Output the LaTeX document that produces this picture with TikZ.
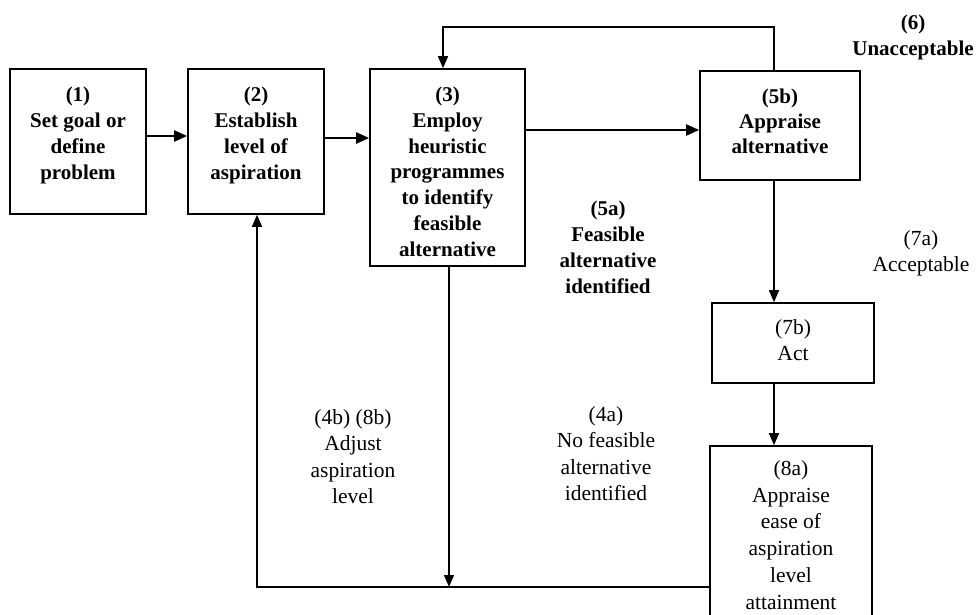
\documentclass[tikz,border=0pt]{standalone}
\usepackage{fontspec}
\setmainfont{Liberation Serif}
\usetikzlibrary{arrows.meta,calc}
\begin{document}
\begin{tikzpicture}[x=1pt,y=-1pt,
  box/.style={draw,line width=1.6pt,rectangle,inner sep=0pt},
  boxtxt/.style={anchor=north,align=center,inner sep=0pt,font=\fontsize{21}{26}\selectfont\bfseries},
  boxtxtr/.style={anchor=north,align=center,inner sep=0pt,font=\fontsize{21.5}{26}\selectfont},
  free/.style={anchor=north,align=center,inner sep=0pt,font=\fontsize{21.5}{26.5}\selectfont},
  freeb/.style={anchor=north,align=center,inner sep=0pt,font=\fontsize{21}{26}\selectfont\bfseries},
  arr/.style={line width=1.4pt,-{Triangle[length=12pt,width=10pt]}},
  arrt/.style={line width=2.2pt,-{Triangle[length=13pt,width=11pt]}},
  ln/.style={line width=1.4pt}]
\clip (0,0) rectangle (979,615);
\fill[white] (0,0) rectangle (979,615);
% boxes
\node[box,minimum width=136pt,minimum height=145pt] (b1) at (78,141.5) {};
\node[box,minimum width=136pt,minimum height=145pt] (b2) at (256,141.5) {};
\node[box,minimum width=155pt,minimum height=197pt] (b3) at (447.5,167.5) {};
\node[box,minimum width=160pt,minimum height=109pt] (b5) at (780,125.5) {};
\node[box,minimum width=162pt,minimum height=80pt] (b7) at (793,343) {};
\node[box,minimum width=162pt,minimum height=254pt] (b8) at (791,573) {};
% box texts
\node[boxtxt] (t1) at ($(b1.north)+(0,18.5)$) {(1)\\Set goal or\\define\\problem};
\node[boxtxt] (t2) at ($(b2.north)+(0,18.5)$) {(2)\\Establish\\level of\\aspiration};
\node[boxtxt,font=\fontsize{21}{25.8}\selectfont\bfseries] (t3) at ($(b3.north)+(0,18.5)$) {(3)\\Employ\\heuristic\\programmes\\to identify\\feasible\\alternative};
\node[boxtxt,font=\fontsize{21}{25}\selectfont\bfseries] (t5) at ($(b5.north)+(0,19)$) {(5b)\\Appraise\\alternative};
\node[boxtxtr] (t7) at ($(b7.north)+(0,17)$) {(7b)\\Act};
\node[boxtxtr,font=\fontsize{21.5}{26.8}\selectfont] (t8) at ($(b8.north)+(0,15)$) {(8a)\\Appraise\\ease of\\aspiration\\level\\attainment};
% free labels
\node[freeb] (l6) at (913,15) {(6)\\Unacceptable};
\node[freeb] (l5a) at (608,201) {(5a)\\Feasible\\alternative\\identified};
\node[free] (l7a) at (921,230) {(7a)\\Acceptable};
\node[free] (l48) at (353,409) {(4b) (8b)\\Adjust\\aspiration\\level};
\node[free] (l4a) at (606,406) {(4a)\\No feasible\\alternative\\identified};
% helper coordinates
\coordinate (y12) at (0,136);
\coordinate (y23) at (0,138);
\coordinate (y35) at (0,130);
\coordinate (top) at (0,27);
\coordinate (xr) at (774,0);
\coordinate (x3t) at (443,0);
\coordinate (x3b) at (449,0);
\coordinate (x2b) at (257,0);
\coordinate (bot) at (0,587);
\coordinate (j) at (x3b |- bot);
% connectors
\draw[arrt] (b1.east |- y12) -- (b2.west |- y12);
\draw[arrt] (b2.east |- y23) -- (b3.west |- y23);
\draw[arrt] (b3.east |- y35) -- (b5.west |- y35);
\draw[arr] (xr |- b5.north) -- (xr |- top) -- (x3t |- top) -- (x3t |- b3.north);
\draw[arr] (xr |- b5.south) -- (xr |- b7.north);
\draw[arr] (xr |- b7.south) -- (xr |- b8.north);
\draw[arr] (x3b |- b3.south) -- (j);
\draw[arr] (b8.west |- bot) -- (x2b |- bot) -- (x2b |- b2.south);
\end{tikzpicture}
\end{document}
